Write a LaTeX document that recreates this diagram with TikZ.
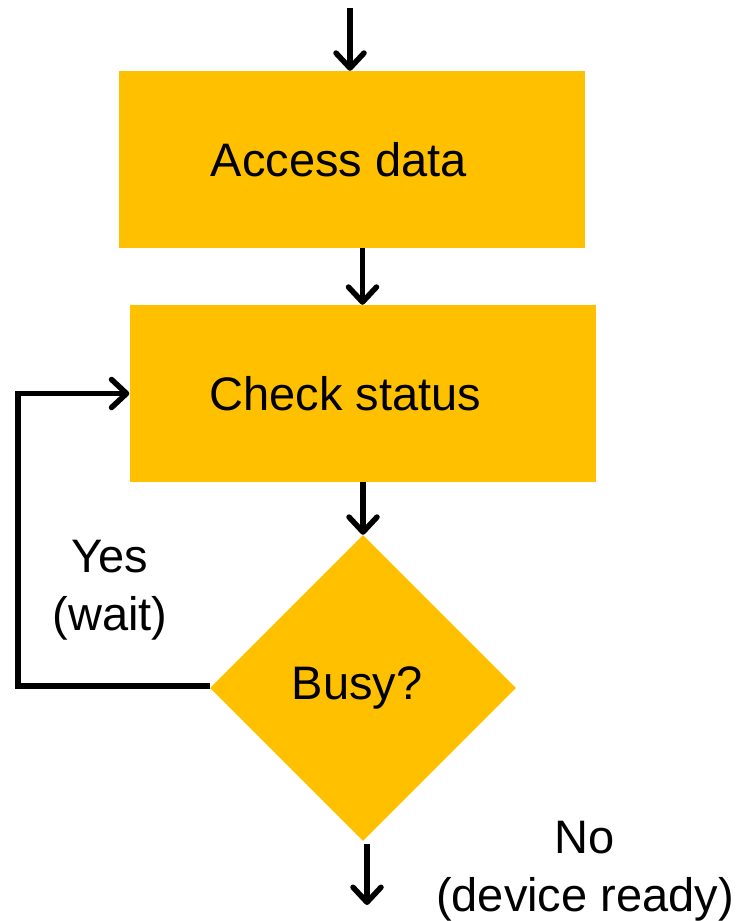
\documentclass[tikz,border=0pt]{standalone}
\usepackage{fontspec}
\setmainfont{Liberation Sans}
\usetikzlibrary{shapes.geometric,arrows.meta}
\definecolor{gold}{HTML}{FFC000}

\begin{document}
\begin{tikzpicture}
[x=1pt,y=-1pt,
every node/.style={font=\fontsize{47}{58}\selectfont,align=center,inner sep=0pt},
stepbox/.style={fill=gold,minimum width=466pt,minimum height=177pt},
decision/.style={diamond,fill=gold,aspect=1,minimum width=306pt,minimum height=306pt},
flow/.style={line width=5.5pt,-{Straight Barb[length=15pt,width=28pt,round]}}]

\useasboundingbox (0,0) rectangle (749,921);

\node[stepbox] (access) at (352,159.5) {Access data\hspace*{26pt}};
\node[stepbox] (check) at (362.5,393.5) {Check status\hspace*{34pt}};
\node[decision] (busy) at (363,688) {Busy?\hspace*{12pt}};

\coordinate (start) at (350,8);
\coordinate (loop) at (18,686);
\coordinate (out) at (367,905);

\draw[flow] (start) -- (access.north -| start);
\draw[flow] (access.south -| check.north) -- (check.north);
\draw[flow] (check.south -| busy.north) -- (busy.north);
\draw[flow] (busy.south) ++(4,3) -- (out);
\draw[flow] (busy.west) ++(0,-2) -- (loop) |- (check.west);

\node (yes) at (110,590) {Yes\\(wait)};
\node (no) at (585,871) {No\\(device ready)};
\end{tikzpicture}
\end{document}
